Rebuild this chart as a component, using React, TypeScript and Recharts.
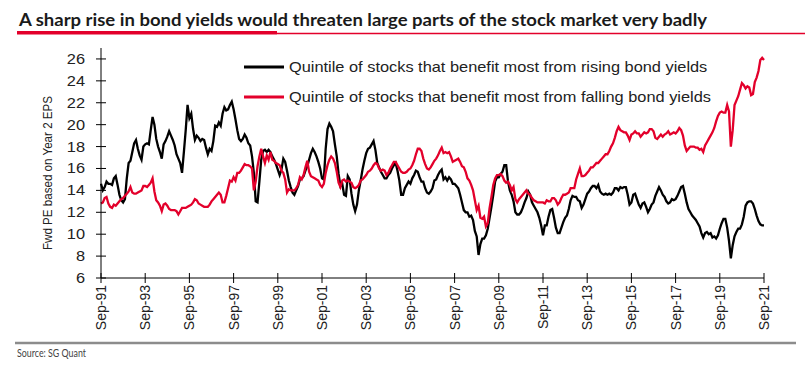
import { Legend, Line, LineChart, XAxis, YAxis } from "recharts";

const MONTHS = ["Jan", "Feb", "Mar", "Apr", "May", "Jun", "Jul", "Aug", "Sep", "Oct", "Nov", "Dec"];

// monthly, Sep-91 .. Sep-21
const dates = Array.from({ length: 361 }, (_, i) => {
  const m = 8 + i;
  const yy = (1991 + Math.floor(m / 12)) % 100;
  return `${MONTHS[m % 12]}-${String(yy).padStart(2, "0")}`;
});

// Quintile of stocks that benefit most from rising bond yields
const risingYields = [
  14.6, 14.0, 14.3, 14.8, 14.6, 14.6, 14.5, 15.1, 15.3, 14.5,
  13.6, 13.1, 12.9, 13.2, 15.1, 16.5, 16.7, 17.5, 18.3, 18.6,
  17.8, 17.2, 16.8, 18.0, 18.2, 18.3, 18.2, 19.5, 20.7, 20.0,
  18.7, 18.0, 17.5, 16.9, 18.2, 18.5, 18.9, 19.4, 19.0, 18.6,
  18.1, 17.3, 16.9, 16.5, 15.6, 17.5, 19.5, 21.8, 20.6, 21.0,
  19.6, 18.6, 19.0, 18.8, 18.5, 18.7, 18.6, 17.9, 17.3, 17.8,
  17.6, 18.5, 19.9, 19.8, 20.2, 19.9, 21.0, 21.6, 21.3, 21.4,
  21.8, 22.1, 21.4, 20.5, 19.5, 18.7, 18.5, 18.7, 19.1, 18.8,
  18.3, 18.1, 17.1, 15.6, 13.0, 12.9, 14.8, 16.8, 17.6, 17.7,
  17.5, 17.7, 17.5, 17.1, 16.8, 16.4, 15.9, 15.4, 15.9, 16.9,
  16.6, 15.8, 14.9, 14.3, 13.8, 13.6, 14.0, 14.4, 15.0, 15.1,
  15.3, 15.8, 16.2, 16.8, 17.4, 17.8, 17.5, 17.1, 16.6, 16.0,
  15.1, 15.0, 17.8, 19.6, 20.1, 19.8, 19.4, 18.2, 17.1, 15.5,
  14.4, 14.6, 13.6, 13.5, 15.3, 15.0, 13.7, 12.7, 12.1, 12.7,
  14.0, 14.9, 15.9, 16.7, 17.4, 17.8, 17.9, 18.2, 18.5, 17.7,
  16.5, 16.1, 15.7, 15.4, 15.1, 15.1, 15.4, 15.6, 16.0, 16.3,
  16.5, 15.8, 14.9, 13.6, 13.6, 14.2, 14.5, 14.8, 14.6, 15.1,
  15.4, 15.8, 15.7, 15.2, 14.8, 14.8, 14.2, 13.8, 13.7, 13.9,
  14.2, 14.9, 15.0, 15.4, 15.7, 15.9, 15.0, 15.2, 14.9, 15.2,
  15.0, 14.6, 14.6, 14.4, 14.2, 13.6, 12.9, 12.2, 12.0, 12.0,
  11.6, 11.7, 11.3, 10.3, 9.8, 8.1, 9.1, 9.6, 9.6, 9.9,
  10.5, 11.5, 12.5, 13.6, 14.8, 15.2, 15.2, 15.5, 15.7, 16.3,
  16.3, 14.8, 14.0, 13.6, 13.0, 12.0, 11.8, 11.8, 12.0, 12.4,
  12.9, 13.3, 13.9, 13.6, 12.9, 12.6, 12.3, 12.0, 11.5, 10.8,
  9.9, 10.8, 10.8, 11.6, 12.2, 12.3, 11.5, 10.6, 10.1, 10.1,
  10.6, 11.1, 11.5, 11.7, 12.3, 13.1, 13.5, 13.4, 13.4, 13.1,
  13.0, 12.4, 12.7, 13.2, 13.7, 13.9, 14.2, 14.4, 14.4, 14.2,
  14.5, 13.9, 13.7, 13.6, 13.7, 13.6, 13.7, 13.6, 13.8, 14.2,
  14.2, 14.0, 14.3, 14.2, 14.3, 14.3, 13.6, 12.7, 12.9, 13.6,
  13.7, 13.2, 12.7, 12.4, 12.8, 12.9, 12.5, 12.0, 12.3, 12.7,
  12.9, 13.5, 13.9, 14.3, 14.0, 13.6, 13.4, 13.0, 12.8, 12.9,
  13.2, 13.1, 13.2, 13.5, 13.9, 14.3, 14.4, 13.7, 12.9, 12.3,
  12.0, 11.7, 11.5, 11.3, 11.0, 10.7, 10.1, 9.7, 10.1, 10.2,
  10.0, 10.1, 9.7, 9.8, 9.6, 9.9, 10.5, 11.0, 11.4, 11.4,
  10.6, 9.4, 7.8, 9.0, 9.8, 10.2, 10.5, 10.5, 10.9, 11.6,
  12.6, 12.9, 13.0, 13.0, 12.8, 12.3, 11.7, 11.2, 10.9, 10.8,
  10.8,
];

// Quintile of stocks that benefit most from falling bond yields
const fallingYields = [
  12.8, 12.9, 13.3, 13.4, 12.8, 12.5, 12.4, 12.7, 12.6, 12.8,
  13.0, 13.2, 13.3, 13.5, 13.7, 13.9, 14.3, 13.8, 13.7, 13.7,
  13.8, 13.9, 14.0, 14.4, 14.4, 14.3, 14.5, 14.7, 15.1, 13.9,
  13.1, 12.9, 12.6, 12.1, 12.7, 12.8, 12.6, 12.3, 12.2, 12.2,
  12.2, 12.1, 11.8, 12.1, 12.4, 12.4, 12.4, 12.5, 12.6, 12.7,
  12.9, 13.2, 13.1, 12.8, 12.7, 12.6, 12.5, 12.5, 12.5, 12.7,
  13.0, 13.2, 13.4, 13.6, 13.8, 13.6, 12.9, 12.9, 13.5, 14.2,
  14.9, 14.8, 15.2, 14.9, 15.6, 15.6, 15.8, 16.1, 16.4, 16.3,
  16.3, 16.2, 16.0, 14.0, 14.8, 16.2, 17.1, 17.8, 17.1, 16.5,
  17.2, 16.8, 17.5, 16.8, 16.7, 16.5, 16.4, 16.3, 15.8, 15.6,
  15.0, 13.8, 14.1, 14.0, 14.0, 14.0, 14.2, 14.5, 15.2, 15.0,
  15.4, 16.1, 16.7, 15.7, 15.3, 15.2, 15.1, 15.0, 14.9, 14.5,
  14.3, 14.6, 15.6, 16.3, 16.8, 17.1, 16.9, 16.5, 15.7, 14.7,
  14.3, 14.9, 15.0, 14.8, 14.9, 14.8, 14.7, 14.3, 14.2, 14.3,
  14.5, 14.9, 15.0, 15.2, 15.4, 15.7, 15.8, 16.0, 16.3, 16.5,
  16.4, 16.0, 15.8, 15.9, 15.8, 15.4, 15.6, 16.0, 16.3, 16.6,
  16.6, 16.3, 16.0, 15.7, 15.6, 15.6, 15.7, 15.9, 16.0, 16.3,
  16.7, 17.3, 17.8, 17.8, 17.6, 16.9, 16.4, 16.0, 15.9, 16.1,
  16.4, 16.7, 16.9, 17.2, 17.6, 17.9, 17.4, 17.5, 17.4, 17.5,
  17.1, 16.6, 16.7, 16.8, 16.9, 16.6, 16.2, 16.1, 15.7, 15.1,
  14.9, 14.5, 14.0, 13.1, 12.2, 12.6, 11.5, 11.4, 11.6, 10.7,
  11.0, 12.4, 13.4, 14.5, 15.1, 15.4, 15.4, 15.5, 15.3, 14.9,
  14.7, 14.8, 14.5, 14.0, 14.3, 13.2, 12.9, 13.2, 13.4, 13.6,
  13.8, 14.0, 13.7, 13.6, 13.3, 13.1, 13.0, 12.9, 12.9, 12.9,
  12.9, 12.8, 13.1, 13.0, 13.0, 13.3, 13.3, 13.1, 12.7, 12.9,
  13.3, 13.6, 13.6, 13.7, 13.8, 14.2, 14.2, 14.2, 15.0, 15.5,
  16.0, 15.3, 15.3, 15.4, 15.6, 15.8, 16.1, 16.1, 16.3, 16.5,
  16.5, 16.7, 16.9, 17.1, 17.3, 17.3, 17.6, 18.0, 18.3, 18.8,
  19.4, 19.8, 19.5, 19.4, 19.3, 19.3, 19.0, 18.6, 19.1, 19.2,
  19.4, 19.2, 19.2, 18.9, 19.1, 19.3, 19.2, 19.3, 19.6, 19.6,
  19.4, 18.8, 18.7, 18.9, 19.1, 18.9, 19.1, 19.2, 19.4, 19.1,
  19.2, 19.3, 19.2, 19.4, 19.7, 19.5, 19.0, 18.1, 17.6, 17.8,
  18.0, 18.0, 18.0, 17.9, 17.9, 17.7, 17.8, 17.5, 18.1, 18.4,
  18.7, 19.0, 19.3, 19.7, 20.3, 20.8, 21.1, 21.2, 21.1, 21.1,
  21.8, 21.2, 18.0, 19.5, 21.8, 22.2, 22.6, 23.2, 23.8, 23.6,
  23.3, 23.5, 23.4, 22.7, 22.8, 23.9, 24.3, 24.9, 25.9, 26.1,
  25.9,
];

const yTicks = [6, 8, 10, 12, 14, 16, 18, 20, 22, 24, 26];
const seriesOrder = ["rising", "falling"];

const data = dates.map((date, i) => ({
  date,
  rising: risingYields[i],
  falling: fallingYields[i],
}));

const FONT = '"Liberation Sans", Arial, sans-serif';
const RED = "#e3002b";
// the source picture is a little wider than tall
const STRETCH = 1.17;

function XTick(props: any) {
  const { x, y, payload } = props;
  return (
    <g>
      <line x1={x} x2={x} y1={y - 12} y2={y - 2} stroke="#000" />
      <text
        x={x + 5}
        y={y}
        transform={`rotate(-90 ${x + 5} ${y})`}
        textAnchor="end"
        fontSize={14}
        fontFamily={FONT}
        fill="#222"
      >
        {payload.value}
      </text>
    </g>
  );
}

function YTick(props: any) {
  const { x, y, payload } = props;
  return (
    <g>
      <line x1={x + 11} x2={x + 21} y1={y} y2={y} stroke="#000" />
      <text
        transform={`translate(${x} ${y + 5}) scale(${STRETCH} 1)`}
        textAnchor="end"
        fontSize={14}
        fontFamily={FONT}
        fill="#222"
      >
        {payload.value}
      </text>
    </g>
  );
}

function LegendBox(props: any) {
  const items = [...(props.payload || [])].sort(
    (a: any, b: any) => seriesOrder.indexOf(a.dataKey) - seriesOrder.indexOf(b.dataKey)
  );
  return (
    <svg width={520} height={60}>
      {items.map((it: any, i: number) => (
        <g key={it.value} transform={`translate(0 ${15 + i * 30})`}>
          <line x1={4} x2={44} y1={0} y2={0} stroke={it.color} strokeWidth={3} />
          <text
            transform={`translate(49 5) scale(${STRETCH} 1)`}
            fontSize={14}
            fontFamily={FONT}
            fill="#222"
          >
            {it.value}
          </text>
        </g>
      ))}
    </svg>
  );
}

export default function App() {
  return (
    <div style={{ position: "absolute", left: 0, top: 0, width: 808, height: 368, background: "#fff" }}>
      <LineChart
        width={808}
        height={368}
        data={data}
        margin={{ top: 48, right: 44, bottom: 0, left: 0 }}
      >
        <XAxis
          dataKey="date"
          interval={23}
          height={90}
          tick={<XTick />}
          tickLine={false}
          tickSize={5}
          tickMargin={2}
          axisLine={{ stroke: "#000" }}
        />
        <YAxis
          type="number"
          domain={[6, 27]}
          ticks={yTicks}
          interval={0}
          width={101}
          tick={<YTick />}
          tickLine={false}
          tickSize={6}
          tickMargin={10}
          axisLine={{ stroke: "#000" }}
        />
        <Legend
          layout="vertical"
          align="center"
          verticalAlign="middle"
          content={<LegendBox />}
          wrapperStyle={{ position: "absolute", left: 240, top: 52, width: 520, height: 60 }}
        />
        <Line
          type="linear"
          dataKey="rising"
          name="Quintile of stocks that benefit most from rising bond yields"
          stroke="#000"
          strokeWidth={2.3}
          dot={false}
          isAnimationActive={false}
        />
        <Line
          type="linear"
          dataKey="falling"
          name="Quintile of stocks that benefit most from falling bond yields"
          stroke={RED}
          strokeWidth={2.3}
          dot={false}
          isAnimationActive={false}
        />
      </LineChart>
      <svg
        width={808}
        height={368}
        style={{ position: "absolute", left: 0, top: 0, pointerEvents: "none" }}
      >
        <text
          x={19}
          y={26}
          fontSize={16.5}
          fontWeight={700}
          fontFamily="Lato, 'Open Sans', sans-serif"
          fill="#1a1a1a"
          textLength={688}
          lengthAdjust="spacingAndGlyphs"
        >
          A sharp rise in bond yields would threaten large parts of the stock market very badly
        </text>
        <rect x={17} y={31} width={260} height={3.5} fill={RED} />
        <line x1={277} x2={805} y1={33.5} y2={33.5} stroke={RED} strokeWidth={1.5} />
        <text
          x={52}
          y={173}
          transform="rotate(-90 52 173)"
          textAnchor="middle"
          fontSize={12.5}
          fontFamily={FONT}
          fill="#222"
          textLength={154}
          lengthAdjust="spacingAndGlyphs"
        >
          Fwd PE based on Year 2 EPS
        </text>
        <line x1={15} x2={796} y1={343} y2={343} stroke="#8c8c8c" strokeWidth={2.5} />
        <text
          x={17}
          y={357}
          fontSize={11}
          fontFamily="Lato, sans-serif"
          fill="#444"
          textLength={69}
          lengthAdjust="spacingAndGlyphs"
        >
          Source: SG Quant
        </text>
      </svg>
    </div>
  );
}
